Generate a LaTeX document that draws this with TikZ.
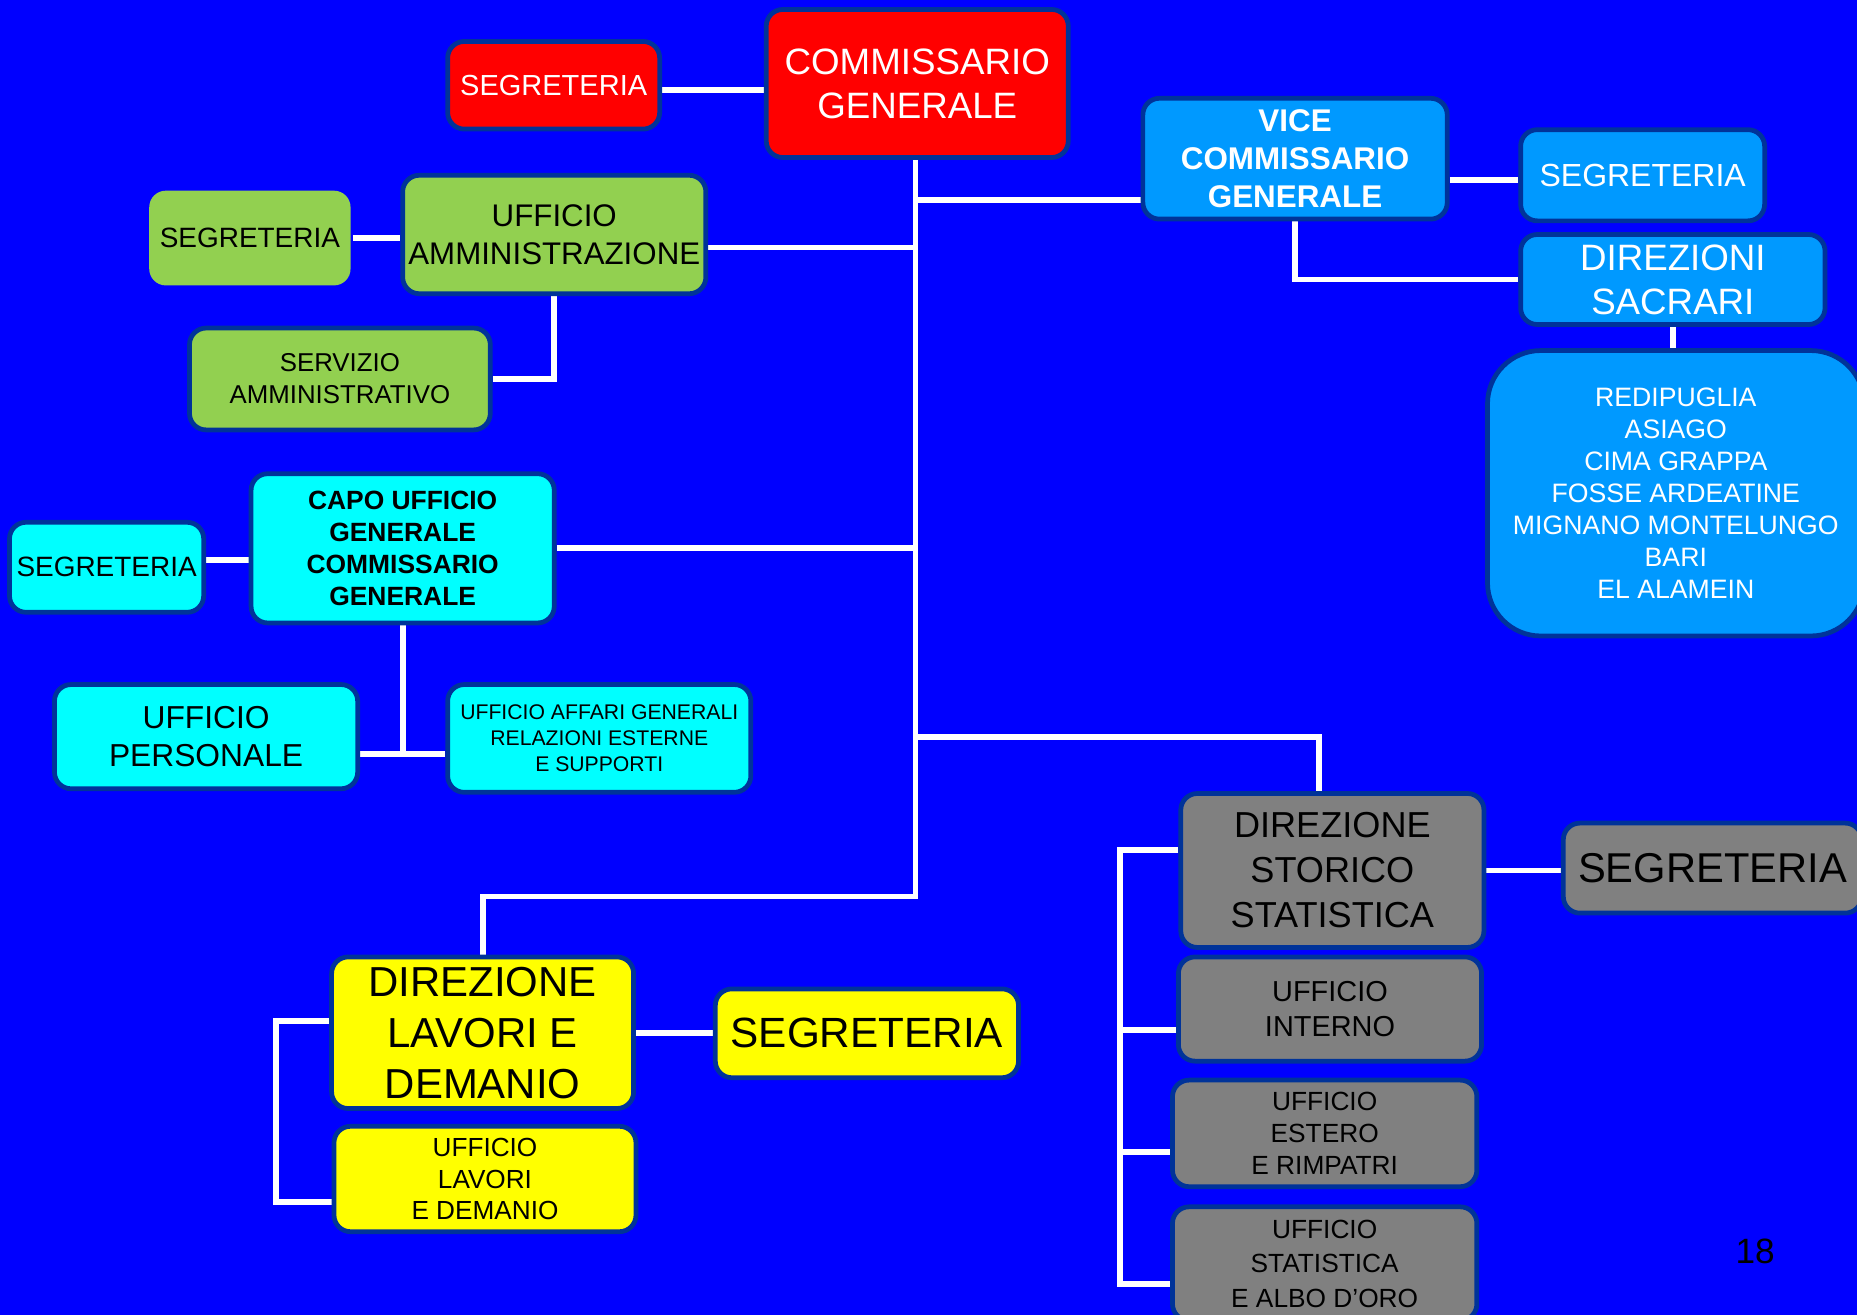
\documentclass[tikz,border=0pt]{standalone}
\usepackage{fontspec}
\setmainfont{Liberation Sans}
\usepackage{tikz}
\usetikzlibrary{positioning,calc,backgrounds}
\definecolor{bgblue}{RGB}{0,0,255}
\definecolor{rim}{RGB}{0,51,153}
\definecolor{boxred}{RGB}{255,0,0}
\definecolor{boxblue}{RGB}{0,153,255}
\definecolor{boxgreen}{RGB}{146,208,80}
\definecolor{boxcyan}{RGB}{0,255,255}
\definecolor{boxgray}{RGB}{128,128,128}
\definecolor{boxyellow}{RGB}{255,255,0}

\begin{document}
\begin{tikzpicture}[
        %one unit is one pixel of the slide, y going down
        x=1pt, y=-1pt,
        box/.style={draw=rim, line width=4pt, rounded corners=14pt, align=center, inner sep=0pt},
        redbox/.style={box, fill=boxred, text=white},
        bluebox/.style={box, fill=boxblue, text=white},
        greenbox/.style={box, fill=boxgreen, text=black},
        cyanbox/.style={box, fill=boxcyan, text=black},
        graybox/.style={box, fill=boxgray, text=black},
        yellowbox/.style={box, fill=boxyellow, text=black},
        link/.style={white, line width=5pt},
    ]
    % font size and leading
    \newcommand\fz[2]{\fontsize{#1}{#2}\selectfont}

    \useasboundingbox (0,0) rectangle (1568,1110);

    % Top
    \node[redbox, font=\fz{31}{37}, minimum width=255, minimum height=125] (comm) at (774.5,70.5) {COMMISSARIO\\GENERALE};
    \node[redbox, font=\fz{24.5}{29}, minimum width=179, minimum height=74] (segR) at (467.5,72) {SEGRETERIA};

    % Vice commissario and sacrari
    \node[bluebox, font=\fz{26.5}{32}\bfseries, minimum width=257, minimum height=102] (vice) at (1093.5,134) {VICE\\COMMISSARIO\\GENERALE};
    \node[bluebox, font=\fz{27}{32}, minimum width=206, minimum height=77] (segB) at (1387,148) {SEGRETERIA};
    \node[bluebox, font=\fz{31}{37}, minimum width=257, minimum height=76] (dirsac) at (1412.5,236) {DIREZIONI\\SACRARI};
    \node[bluebox, font=\fz{22.5}{27}, rounded corners=45pt, minimum width=318, minimum height=241] (sacrari) at (1415,416.5)
        {REDIPUGLIA\\ASIAGO\\CIMA GRAPPA\\FOSSE ARDEATINE\\MIGNANO MONTELUNGO\\BARI\\EL ALAMEIN};

    % Amministrazione
    \node[greenbox, font=\fz{26.4}{32}, minimum width=256, minimum height=100] (amm) at (468,198) {UFFICIO\\AMMINISTRAZIONE};
    \node[greenbox, font=\fz{23.6}{28}, draw=none, minimum width=170, minimum height=80] (segG) at (211,201) {SEGRETERIA};
    \node[greenbox, font=\fz{21.8}{27}, minimum width=254, minimum height=86] (serv) at (287,320) {SERVIZIO\\AMMINISTRATIVO};

    % Capo ufficio generale
    \node[cyanbox, font=\fz{22.3}{27}\bfseries, minimum width=256, minimum height=126] (capo) at (340,463) {CAPO UFFICIO\\GENERALE\\COMMISSARIO\\GENERALE};
    \node[cyanbox, font=\fz{23.6}{28}, minimum width=164, minimum height=76] (segC) at (90,479) {SEGRETERIA};
    \node[cyanbox, font=\fz{26.8}{32}, minimum width=256, minimum height=88] (pers) at (174,622) {UFFICIO\\PERSONALE};
    \node[cyanbox, font=\fz{17.9}{22}, minimum width=256, minimum height=91] (affari) at (506,623.5) {UFFICIO AFFARI GENERALI\\RELAZIONI ESTERNE\\E SUPPORTI};

    % Storico statistica
    \node[graybox, font=\fz{30.5}{38}, minimum width=256, minimum height=130] (dirsto) at (1125,735) {DIREZIONE\\STORICO\\STATISTICA};
    \node[graybox, font=\fz{35.2}{42}, minimum width=252, minimum height=76] (segS) at (1446,733) {SEGRETERIA};
    \node[graybox, font=\fz{24.4}{30}, minimum width=256, minimum height=88] (interno) at (1123,852) {UFFICIO\\INTERNO};
    \node[graybox, font=\fz{22.2}{27}, minimum width=257, minimum height=90] (estero) at (1118.5,957) {UFFICIO\\ESTERO\\E RIMPATRI};
    \node[graybox, font=\fz{22.2}{29}, minimum width=257, minimum height=96] (stat) at (1118.5,1067) {UFFICIO\\STATISTICA\\E ALBO D’ORO};

    % Lavori e demanio
    \node[yellowbox, font=\fz{35.4}{43}, minimum width=255, minimum height=128] (dirlav) at (407.5,872) {DIREZIONE\\LAVORI E\\DEMANIO};
    \node[yellowbox, font=\fz{35.7}{42}, minimum width=256, minimum height=75] (segY) at (732,872.5) {SEGRETERIA};
    \node[yellowbox, font=\fz{22.1}{27}, minimum width=255, minimum height=89] (uflav) at (409.5,995.5) {UFFICIO\\LAVORI\\E DEMANIO};

    \node[font=\fz{29.7}{34}] (page) at (1482,1057) {18};

    % Connectors, under the boxes
    \begin{scope}[on background layer]
    \fill[bgblue] (0,0) rectangle (1568,1110);
    \coordinate (trunk) at (773,757);
    \coordinate (tV) at (773,169);
    \coordinate (tA) at (773,209);
    \coordinate (tS) at (773,622);
    \coordinate (capoJ) at (340,637);
    \coordinate (gTop) at (946,718);
    \coordinate (gBot) at (946,1084);
    \coordinate (yTop) at (233,862);
    \coordinate (yBot) at (233,1015);

    \draw[link] (segR.east |- 0,76) -- (comm.west |- 0,76);
    \draw[link] (comm.south -| trunk) -- (trunk) -| (dirlav.north);
    \draw[link] (tV) -- (tV -| vice.west);
    \draw[link] (vice.east |- 0,152) -- (segB.west |- 0,152);
    \draw[link] (vice.south) |- (dirsac.west);
    \draw[link] (sacrari.north -| dirsac.south) -- (dirsac.south);
    \draw[link] (tA) -- (tA -| amm.east);
    \draw[link] (segG.east) -- (segG.east -| amm.west);
    \draw[link] (amm.south) |- (serv.east);
    \draw[link] (capo.east) -- (capo.east -| trunk);
    \draw[link] (segC.east |- 0,473) -- (capo.west |- 0,473);
    \draw[link] (capo.south) -- (capoJ);
    \draw[link] (pers.east |- capoJ) -- (affari.west |- capoJ);
    \draw[link] (tS) -| ([xshift=-11pt]dirsto.north);
    \draw[link] (dirsto.east) -- (dirsto.east -| segS.west);
    \draw[link] (dirsto.west |- gTop) -- (gTop) -- (gBot) -- (gBot -| stat.west);
    \draw[link] (gTop |- 0,870) -- (interno.west |- 0,870);
    \draw[link] (gTop |- 0,973) -- (estero.west |- 0,973);
    \draw[link] (dirlav.east) -- (dirlav.east -| segY.west);
    \draw[link] (dirlav.west |- yTop) -- (yTop) -- (yBot) -- (yBot -| uflav.west);
    \end{scope}
\end{tikzpicture}
\end{document}
